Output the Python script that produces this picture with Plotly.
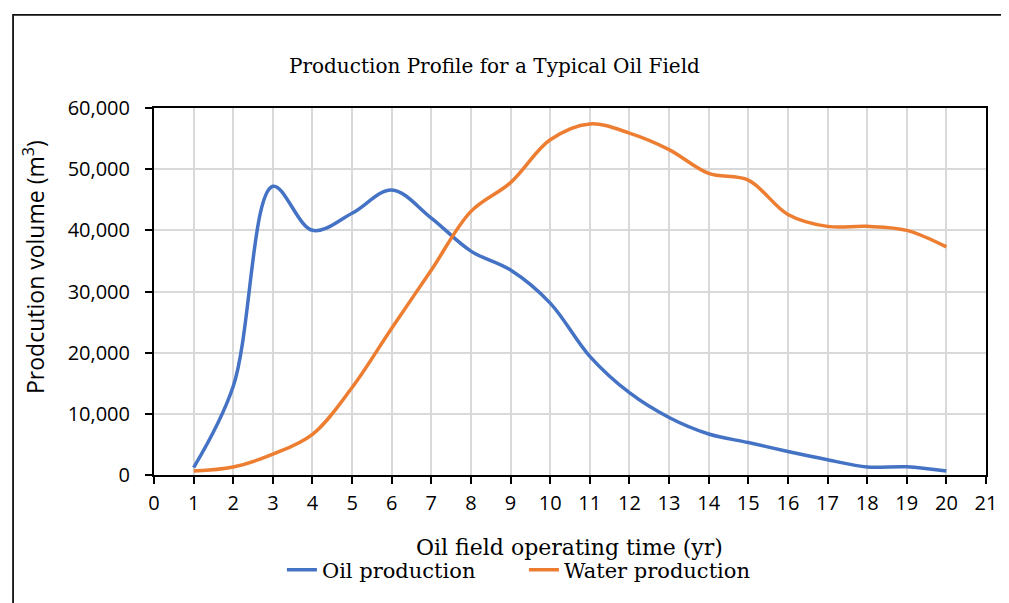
import plotly.graph_objects as go

years = list(range(1, 21))
oil = [1200, 14500, 47200, 40000, 42800, 46600, 42000, 36600, 33500, 28100,
       19400, 13450, 9400, 6700, 5300, 3850, 2500, 1300, 1350, 650]
water = [650, 1300, 3400, 6650, 14300, 24000, 33500, 43100, 47800, 54800,
         57400, 55900, 53200, 49300, 48200, 42600, 40650, 40650, 40000, 37300]

x_ticks = list(range(0, 22))
y_ticks = list(range(0, 60001, 10000))

SERIF = "DejaVu Serif"
SANS = "Open Sans"

fig = go.Figure()
fig.add_trace(go.Scatter(x=years, y=oil, name="Oil production", mode="lines",
                         line=dict(color="#4472C4", width=3.5, shape="spline", smoothing=1.0)))
fig.add_trace(go.Scatter(x=years, y=water, name="Water production", mode="lines",
                         line=dict(color="#ED7D31", width=3.5, shape="spline", smoothing=1.0)))

# page has an 8px body margin; figure drawn at (8, 8)
OFF = 8
W, H = 1009 - OFF, 603 - OFF
PL, PR, PT, PB = 154.3, 991.4, 108.3, 475.7   # plot area in screenshot pixels
L = PL - OFF
R = W - (PR - OFF)
T = PT - OFF
B = H - (PB - OFF)
pw = PR - PL
ph = PB - PT


def px(xs):
    return (xs - PL) / pw


def py(ys):
    return (PB - ys) / ph


fig.update_layout(
    width=W, height=H,
    margin=dict(l=L, r=R, t=T, b=B, pad=0),
    paper_bgcolor="white", plot_bgcolor="white",
    showlegend=True,
    legend=dict(orientation="h", x=px(283), xanchor="left", y=py(571), yanchor="middle",
                font=dict(family=SERIF, size=21, color="#000"),
                entrywidth=197, bgcolor="rgba(0,0,0,0)"),
    xaxis=dict(range=[0, 21], tickmode="array", tickvals=x_ticks,
               ticktext=[str(v) for v in x_ticks],
               showgrid=True, gridcolor="#d9d9d9", gridwidth=1.6,
               showline=True, linecolor="black", linewidth=2, mirror=True,
               ticks="outside", ticklen=7, tickwidth=1.5, tickcolor="black",
               tickfont=dict(family=SANS, size=20, color="#000"),
               ticklabelstandoff=2, ticklabeloverflow="allow", zeroline=False),
    yaxis=dict(range=[0, 60000], tickmode="array", tickvals=y_ticks,
               ticktext=[f"{v:,}" for v in y_ticks],
               showgrid=True, gridcolor="#d9d9d9", gridwidth=1.6,
               showline=True, linecolor="black", linewidth=2, mirror=True,
               ticks="outside", ticklen=7, tickwidth=1.5, tickcolor="black",
               tickfont=dict(family=SANS, size=20, color="#000"),
               ticklabelstandoff=11, zeroline=False),
    shapes=[dict(type="rect", xref="paper", yref="paper",
                 x0=px(12.5), x1=px(1100), y0=py(700), y1=py(15),
                 line=dict(color="#111", width=1.8), layer="below")],
    annotations=[
        dict(text="Production Profile for a Typical Oil Field", xref="paper", yref="paper",
             x=px(497), y=py(66), showarrow=False, xanchor="center", yanchor="middle",
             font=dict(family=SERIF, size=20, color="#000")),
        dict(text="Oil field operating time (yr)", xref="paper", yref="paper",
             x=px(572), y=py(548), showarrow=False, xanchor="center", yanchor="middle",
             font=dict(family=SERIF, size=22, color="#000")),
        dict(text="Prodcution volume (m<sup>3</sup>)", xref="paper", yref="paper",
             x=px(33), y=py(267), showarrow=False, xanchor="center", yanchor="middle",
             textangle=-90, font=dict(family=SANS, size=23, color="#000")),
    ],
)

fig.write_html("out.html")
